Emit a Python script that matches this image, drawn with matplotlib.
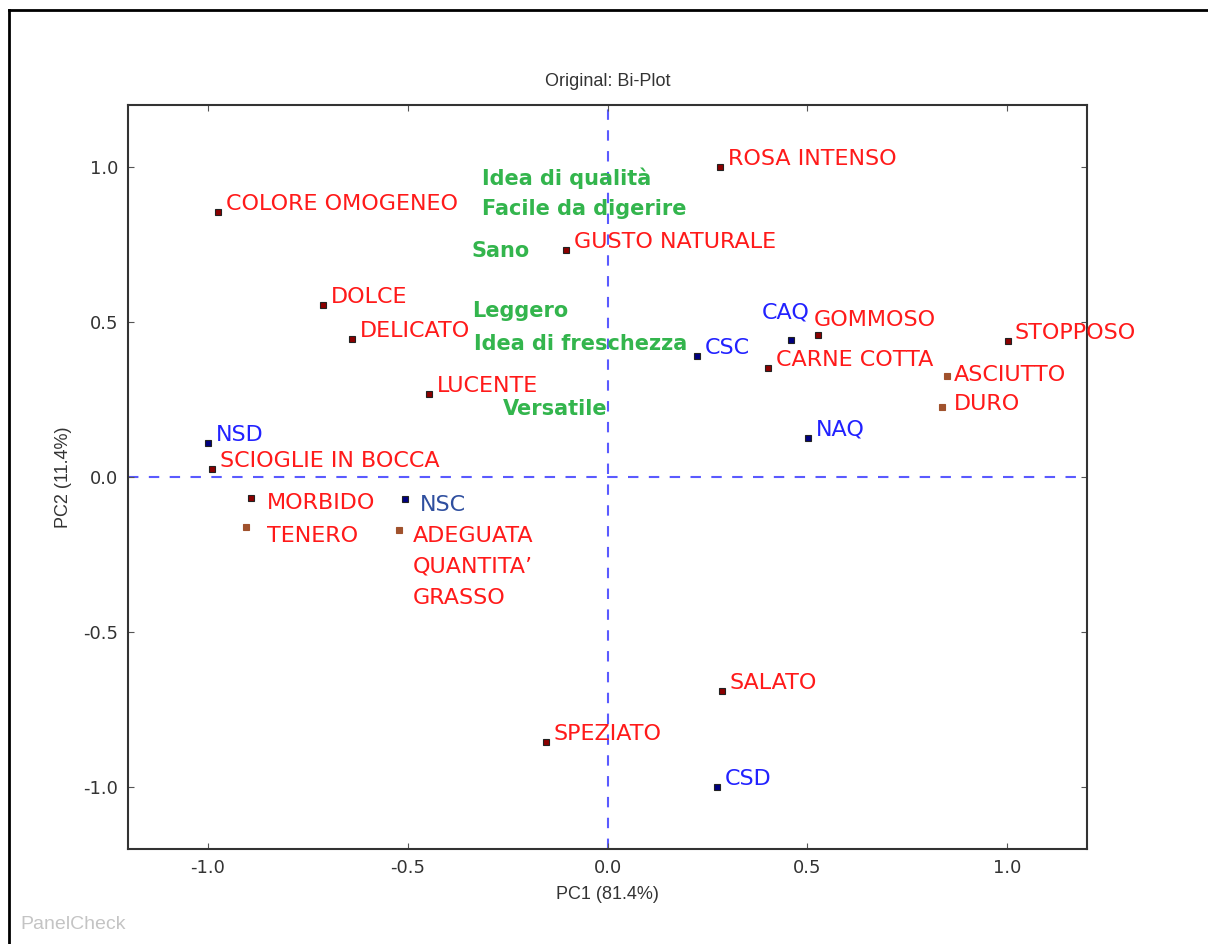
import matplotlib
matplotlib.use("Agg")
import matplotlib.pyplot as plt
from matplotlib.lines import Line2D

plt.rcParams["axes.unicode_minus"] = False

# attributi (rossi)
attr_names = ["ROSA INTENSO", "COLORE OMOGENEO", "GUSTO NATURALE", "DOLCE", "DELICATO",
              "LUCENTE", "SCIOGLIE IN BOCCA", "MORBIDO", "TENERO",
              "ADEGUATA\nQUANTITA\u2019\nGRASSO", "GOMMOSO", "CARNE COTTA", "STOPPOSO",
              "ASCIUTTO", "DURO", "SALATO", "SPEZIATO"]
attr_pc1 = [0.281, -0.975, -0.103, -0.712, -0.639, -0.446, -0.990, -0.892, -0.905,
            -0.521, 0.526, 0.401, 1.003, 0.850, 0.837, 0.286, -0.155]
attr_pc2 = [1.000, 0.855, 0.732, 0.555, 0.445, 0.268, 0.026, -0.068, -0.161,
            -0.171, 0.458, 0.352, 0.439, 0.326, 0.226, -0.690, -0.855]

# campioni (blu)
samp_names = ["NSD", "NSC", "CSC", "CAQ", "NAQ", "CSD"]
samp_pc1 = [-1.000, -0.506, 0.223, 0.459, 0.501, 0.273]
samp_pc2 = [0.110, -0.071, 0.390, 0.442, 0.126, -1.000]

# etichette verdi senza punto
green_names = ["Idea di qualit\u00e0", "Facile da digerire", "Sano", "Leggero",
               "Idea di freschezza", "Versatile"]
green_pc1 = [-0.313, -0.313, -0.341, -0.338, -0.333, -0.263]
green_pc2 = [0.965, 0.865, 0.729, 0.535, 0.429, 0.219]

# spostamenti etichette (pixel) dove non e' quello standard
offs_default = (8, 8)
offs = {"MORBIDO": (16, -5), "TENERO": (21, -9), "ADEGUATA\nQUANTITA\u2019\nGRASSO": (13, 4),
        "GOMMOSO": (-4, 15), "ASCIUTTO": (7, 1), "DURO": (12, 3), "STOPPOSO": (6, 8),
        "NSC": (15, -6), "CAQ": (-29, 27)}
brown = {"TENERO", "ADEGUATA\nQUANTITA\u2019\nGRASSO", "ASCIUTTO", "DURO"}

fig = plt.figure(figsize=(12.08, 9.44), dpi=100)
ax = fig.add_axes([0.106, 0.1006, 0.7938, 0.7882])

ax.axhline(0, color="#5a5aff", ls=(0, (5, 5)), lw=1.5, zorder=1)
ax.axvline(0, color="#5a5aff", ls=(0, (5, 5)), lw=1.5, zorder=1)

for n, x, y in zip(attr_names, attr_pc1, attr_pc2):
    fc = "#a0522d" if n in brown else "#8b0000"
    ec = "#a0522d" if n in brown else "#222222"
    ax.plot(x, y, "s", ms=4, mfc=fc, mec=ec, mew=0.8, zorder=3)
    dx, dy = offs.get(n, offs_default)
    if "\n" in n:
        ax.annotate(n, (x, y), xytext=(dx, dy), textcoords="offset pixels",
                    color="#ff1a1a", fontsize=16, ha="left", va="top",
                    linespacing=1.68, family="DejaVu Sans")
        continue
    ax.annotate(n, (x, y), xytext=(dx, dy), textcoords="offset pixels",
                color="#ff1a1a", fontsize=16, ha="left", va="center",
                family="DejaVu Sans")

for n, x, y in zip(samp_names, samp_pc1, samp_pc2):
    ax.plot(x, y, "s", ms=4, mfc="#000080", mec="#222222", mew=0.8, zorder=3)
    dx, dy = offs.get(n, offs_default)
    col = "#2f4f9f" if n == "NSC" else "#2222ff"
    ax.annotate(n, (x, y), xytext=(dx, dy), textcoords="offset pixels",
                color=col, fontsize=16, ha="left", va="center",
                family="DejaVu Sans")

for n, x, y in zip(green_names, green_pc1, green_pc2):
    ax.text(x, y, n, color="#33b54d", fontsize=15, ha="left", va="center",
            family="DejaVu Sans", weight="bold")

ax.set_xlim(-1.2, 1.2)
ax.set_ylim(-1.2, 1.2)
ax.set_xticks([-1.0, -0.5, 0.0, 0.5, 1.0])
ax.set_yticks([-1.0, -0.5, 0.0, 0.5, 1.0])
ax.tick_params(direction="in", top=True, right=True, length=4, width=0.8,
               labelsize=13, labelcolor="#333333", color="#555555", pad=7)
for s in ax.spines.values():
    s.set_linewidth(1.5)
    s.set_color("#333333")

ax.set_title("Original: Bi-Plot", fontsize=13, family="Liberation Sans",
             color="#333333", pad=14)
ax.set_xlabel("PC1 (81.4%)", fontsize=13, family="Liberation Sans",
              color="#333333", labelpad=7)
ax.set_ylabel("PC2 (11.4%)", fontsize=13, family="Liberation Sans",
              color="#333333", labelpad=8)

fig.text(0.017, 0.016, "PanelCheck", fontsize=14, color="#c4c4c4",
         family="Liberation Sans")

# cornice della finestra
fig.add_artist(Line2D([0.0075, 0.0075], [0, 0.9895], color="black", lw=2,
                      transform=fig.transFigure))
fig.add_artist(Line2D([0.0075, 1.0], [0.9895, 0.9895], color="black", lw=2,
                      transform=fig.transFigure))

fig.savefig("out.png", dpi=100)
